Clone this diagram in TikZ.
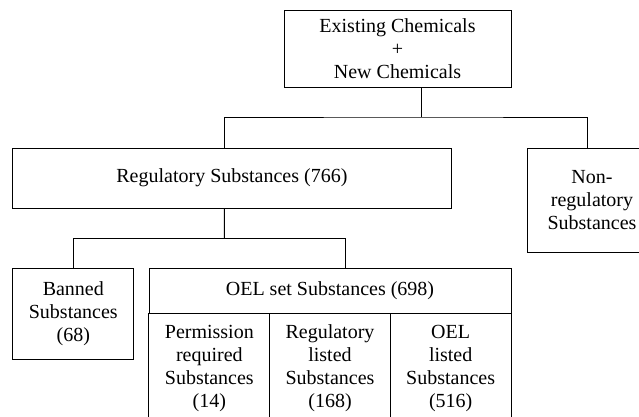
\documentclass[tikz,border=0pt]{standalone}
\usepackage{fontspec}
\setmainfont{Liberation Serif}
\begin{document}
\begin{tikzpicture}[x=1pt, y=1pt, line width=1pt, box/.style={rectangle, draw=black, line width=1pt, inner sep=0, align=center, node font=\fontsize{20}{23}\selectfont}, cell/.style={box, minimum width=120.67pt, minimum height=109.3pt}]

\useasboundingbox (0,0) rectangle (639,416);
\clip (0,0) rectangle (639,416);

\node [box, minimum width=227pt, minimum height=76pt] (CHEM) at (397.5,367){Existing Chemicals\\+\\New Chemicals};
\node [box, minimum width=438.3pt, minimum height=60pt] (REG) at (231.9,238){Regulatory Substances (766)};
\node [box, minimum width=130pt, minimum height=104pt] (NONREG) at (592,216){Non-\\regulatory\\Substances};
\node [box, minimum width=121.3pt, minimum height=90.7pt] (BANNED) at (73.3,102.3){Banned\\Substances\\(68)};
\node [box, minimum width=362pt, minimum height=45.4pt] (OELSET) at (330,125){OEL set Substances (698)};
\node [cell] (PERM) at (209.33,47.65){Permission\\required\\Substances\\(14)};
\node [cell] (REGL) at (330,47.65){Regulatory\\listed\\Substances\\(168)};
\node [cell] (OELL) at (450.67,47.65){OEL\\listed\\Substances\\(516)};

% first level
\coordinate (TOPJ) at (421,299);
\draw (CHEM.south -| TOPJ) -- (TOPJ);
\draw ([xshift=-7.6pt]REG.north) |- (TOPJ) -| ([xshift=-4.3pt]NONREG.north);

% second level
\coordinate (MIDJ) at (224.3,177.7);
\draw ([xshift=-7.6pt]REG.south) -- (MIDJ);
\draw (BANNED.north) |- (MIDJ) -| ([xshift=15.3pt]OELSET.north);

\end{tikzpicture}
\end{document}
